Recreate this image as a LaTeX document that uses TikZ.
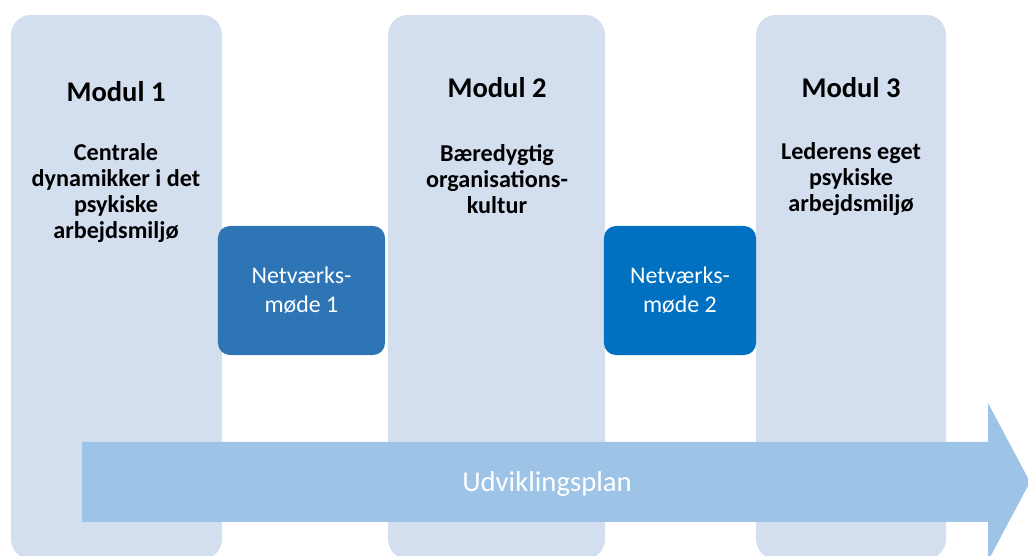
\documentclass[tikz,border=0pt]{standalone}
\usepackage{fontspec}
\setmainfont{Carlito}
\usetikzlibrary{positioning}

\definecolor{modulfill}{HTML}{D3DEEF}
\definecolor{netfillA}{HTML}{2E75B6}
\definecolor{netfillB}{HTML}{0070C0}
\definecolor{planfill}{HTML}{9DC3E6}

\begin{document}
\begin{tikzpicture}[x=0.025cm,y=-0.025cm]
\tikzstyle{modul}=[fill=modulfill, rounded corners=0.5cm, inner sep=0pt, minimum height=13.6cm]
\tikzstyle{netbox}=[rounded corners=0.3cm, inner sep=0pt, minimum height=3.225cm, text=white, align=center, font=\fontsize{17}{20.6}\selectfont]
\tikzstyle{titel}=[inner sep=0pt, font=\fontsize{20.3}{24}\selectfont\bfseries]
\tikzstyle{beskr}=[inner sep=0pt, align=center, font=\fontsize{17.2}{18.4}\selectfont\bfseries]
\useasboundingbox (0,0) rectangle (1028,556);
% the three modules
\node [modul, minimum width=5.275cm] (mod1) at (116.5,287) {};
\node [modul, minimum width=5.425cm] (mod2) at (496.5,287) {};
\node [modul, minimum width=4.75cm] (mod3) at (851,287) {};
\node [titel] (t1) at (116,92) {Modul 1};
\node [titel] (t2) at (497,88) {Modul 2};
\node [titel] (t3) at (851,88) {Modul 3};
\node [beskr] (b1) at (116,193) {Centrale\\dynamikker i det\\psykiske\\arbejdsmiljø};
\node [beskr] (b2) at (497,179) {Bæredygtig\\organisations-\\kultur};
\node [beskr] (b3) at (851,179) {Lederens eget\\psykiske\\arbejdsmiljø};
% network meetings between the modules
\node [netbox, fill=netfillA, minimum width=4.175cm] (net1) at (301.5,290.5) {Netværks-\\møde 1};
\node [netbox, fill=netfillB, minimum width=3.8cm] (net2) at (680,290.5) {Netværks-\\møde 2};
% development plan arrow
\fill [planfill] (82,442) -- (988,442) -- (988,403) -- (1030,482)
  -- (988,561) -- (988,522) -- (82,522) -- cycle;
\node [text=white, font=\fontsize{20.4}{24}\selectfont] (plan) at (547,484) {Udviklingsplan};
\end{tikzpicture}
\end{document}
